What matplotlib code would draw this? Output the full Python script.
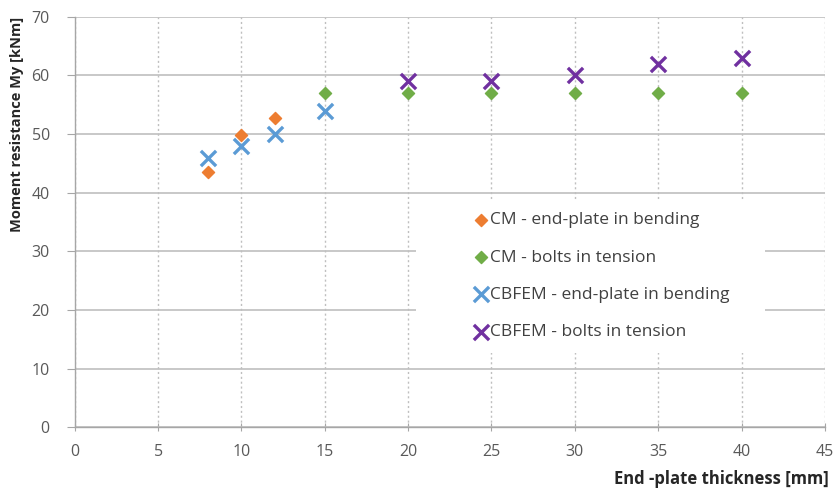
import matplotlib.pyplot as plt
from matplotlib.patches import Rectangle

# data
cm_bend_x = [8, 10, 12]
cm_bend_y = [43.5, 49.8, 52.7]
cm_bolt_x = [15, 20, 25, 30, 35, 40]
cm_bolt_y = [57, 57, 57, 57, 57, 57]
fe_bend_x = [8, 10, 12, 15]
fe_bend_y = [46, 48, 50, 54]
fe_bolt_x = [20, 25, 30, 35, 40]
fe_bolt_y = [59, 59, 60, 62, 63]

plt.rcParams['font.family'] = ['Open Sans', 'DejaVu Sans']

fig = plt.figure(figsize=(8.4, 4.95), dpi=100)
ax = fig.add_axes([0.089, 0.137, 0.893, 0.829])

ax.scatter(cm_bend_x, cm_bend_y, marker='D', s=38, color='#ed7d31', label='CM - end-plate in bending', zorder=3)
ax.scatter(cm_bolt_x, cm_bolt_y, marker='D', s=38, color='#70ad47', label='CM - bolts in tension', zorder=3)
ax.scatter(fe_bend_x, fe_bend_y, marker='x', s=120, linewidths=2.4, color='#5b9bd5', label='CBFEM - end-plate in bending', zorder=3)
ax.scatter(fe_bolt_x, fe_bolt_y, marker='x', s=120, linewidths=2.4, color='#7030a0', label='CBFEM - bolts in tension', zorder=3)

ax.set_xlim(0, 45)
ax.set_ylim(0, 70)
ax.set_xticks(range(0, 50, 5))
ax.set_yticks(range(0, 80, 10))

ax.yaxis.grid(True, color='#bfbfbf', linewidth=1.2)
ax.xaxis.grid(True, color='#bfbfbf', linewidth=1.0, linestyle=(0, (1.5, 2)))
ax.set_axisbelow(True)

for s in ['top', 'right']:
    ax.spines[s].set_visible(False)
for s in ['left', 'bottom']:
    ax.spines[s].set_color('#a6a6a6')
    ax.spines[s].set_linewidth(1.0)

ax.tick_params(axis='both', colors='#a6a6a6', labelcolor='#595959', labelsize=11.5, length=6)
ax.tick_params(axis='x', direction='inout', pad=9)
ax.tick_params(axis='y', pad=12)

ax.set_xlabel('End -plate thickness [mm]', fontsize=12, fontweight='bold', color='#262626')
ax.xaxis.set_label_coords(1.005, -0.105)
ax.xaxis.label.set_horizontalalignment('right')
ax.set_ylabel('Moment resistance My [kNm]', fontsize=10.5, fontweight='bold', color='#262626')
ax.yaxis.set_label_coords(-0.077, 1.0)
ax.yaxis.label.set_verticalalignment('center')
ax.yaxis.label.set_horizontalalignment('right')

# white box behind the legend, hiding the grid like the original
ax.add_patch(Rectangle((0.455, 0.18), 0.465, 0.37, transform=ax.transAxes,
                       facecolor='white', edgecolor='none', zorder=2))

leg = ax.legend(loc='center', bbox_to_anchor=(0.702, 0.368), frameon=False,
                fontsize=12.5, labelspacing=1.22, handletextpad=0.05,
                handlelength=0.9, borderpad=0.3)
for t in leg.get_texts():
    t.set_color('#404040')

fig.savefig('out.png', dpi=100)
